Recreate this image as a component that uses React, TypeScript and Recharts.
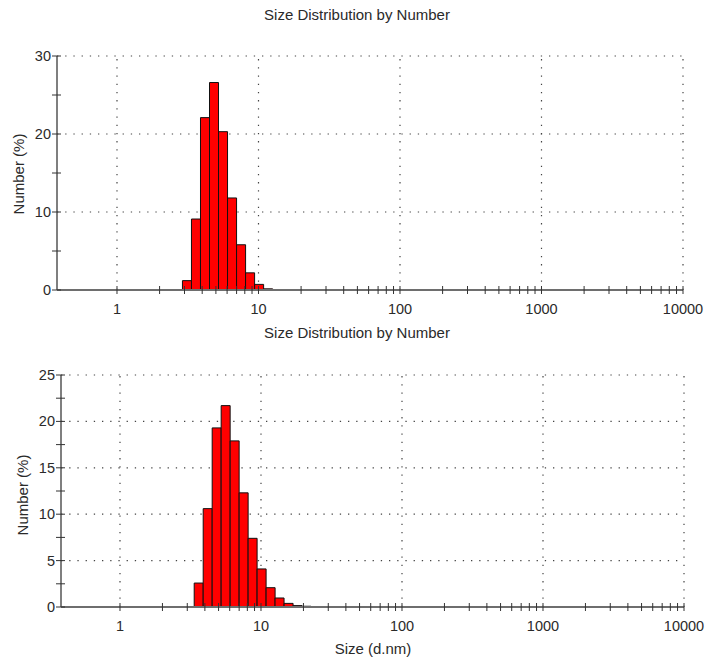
import React from 'react';
import { ComposedChart, XAxis, YAxis, ReferenceArea, ReferenceLine } from 'recharts';

// Size classes (d.nm) of the bars and their Number (%) values
const SIZES_TOP = [3.122, 3.615, 4.187, 4.849, 5.615, 6.503, 7.531, 8.721, 10.1, 11.7];
const NUMBER_TOP = [1.2, 9.1, 22.1, 26.6, 20.3, 11.8, 5.8, 2.2, 0.72, 0.15];

const SIZES_BOTTOM = [3.615, 4.187, 4.849, 5.615, 6.503, 7.531, 8.721, 10.1, 11.7, 13.54, 15.69, 18.17, 21.04];
const NUMBER_BOTTOM = [2.58, 10.6, 19.3, 21.7, 17.9, 12.3, 7.4, 4.1, 2.08, 0.97, 0.39, 0.15, 0.08];

const X_MAJOR = [1, 10, 100, 1000, 10000];
const X_MINOR = [2, 3, 4, 5, 6, 7, 8, 9, 20, 30, 40, 50, 60, 70, 80, 90, 200, 300, 400, 500, 600, 700, 800, 900, 2000, 3000, 4000, 5000, 6000, 7000, 8000, 9000];

const Y_MAJOR_TOP = [0, 10, 20, 30];
const Y_MINOR_TOP = [5, 15, 25];
const Y_MAJOR_BOTTOM = [0, 5, 10, 15, 20, 25];
const Y_MINOR_BOTTOM = [2.5, 7.5, 12.5, 17.5, 22.5];

const TITLE = 'Size Distribution by Number';
const Y_LABEL = 'Number (%)';
const X_LABEL = 'Size (d.nm)';

// Zetasizer size-class step ratio (log spaced classes); half-step for bar edges
const HALF_STEP = Math.sqrt(1.1581);

const FONT = '"Liberation Sans", Arial, sans-serif';
const TEXT_COLOR = '#2a2a2a';

const makeXTick = (majors: number[]) => (props: any) => {
  const { x, y, payload } = props;
  const v = payload.value;
  const isMajor = majors.includes(v);
  return (
    <g>
      <line x1={x} x2={x} y1={y - 4} y2={y + 4} stroke="#333" strokeWidth={1} />
      {isMajor && (
        <text x={x} y={y + 24} textAnchor="middle" fontSize={14.5} fontFamily={FONT} fill={TEXT_COLOR}>
          {v}
        </text>
      )}
    </g>
  );
};

const makeYTick = (majors: number[]) => (props: any) => {
  const { x, y, payload } = props;
  const v = payload.value;
  const isMajor = majors.includes(v);
  return (
    <g>
      <line x1={x - 5} x2={x + 4} y1={y} y2={y} stroke="#333" strokeWidth={1} />
      {isMajor && (
        <text x={x - 6} y={y + 5} textAnchor="end" fontSize={14.5} fontFamily={FONT} fill={TEXT_COLOR}>
          {v}
        </text>
      )}
    </g>
  );
};

type PanelProps = {
  sizes: number[];
  values: number[];
  yMax: number;
  yMajor: number[];
  yMinor: number[];
  xMin: number;
  width: number;
  height: number;
  margin: { top: number; right: number; left: number; bottom: number };
  yAxisWidth: number;
  xAxisHeight: number;
};

const Panel = ({ sizes, values, yMax, yMajor, yMinor, xMin, width, height, margin, yAxisWidth, xAxisHeight }: PanelProps) => {
  const data = sizes.map((s, i) => ({ size: s, value: values[i] }));
  const xTicks = [...X_MAJOR, ...X_MINOR].sort((a, b) => a - b);
  const yTicks = [...yMajor, ...yMinor].sort((a, b) => a - b);
  return (
    <ComposedChart width={width} height={height} data={data} margin={margin}>
      <XAxis
        dataKey="size"
        type="number"
        scale="log"
        domain={[xMin, 10000]}
        allowDataOverflow
        ticks={xTicks}
        interval={0}
        tickSize={0}
        tickMargin={0}
        tickLine={false}
        tick={makeXTick(X_MAJOR)}
        height={xAxisHeight}
        axisLine={{ stroke: '#6e6e6e', strokeWidth: 2 }}
        isAnimationActive={false}
      />
      <YAxis
        type="number"
        domain={[0, yMax]}
        allowDataOverflow
        ticks={yTicks}
        interval={0}
        tickSize={0}
        tickMargin={0}
        tickLine={false}
        tick={makeYTick(yMajor)}
        width={yAxisWidth}
        axisLine={{ stroke: '#555', strokeWidth: 1.5 }}
      />
      {yMajor.filter((v) => v > 0).map((v) => (
        <ReferenceLine
          key={'h' + v}
          y={v}
          stroke="#444"
          strokeWidth={1.2}
          strokeDasharray="1.3 6.9"
          ifOverflow="visible"
          zIndex={-100}
        />
      ))}
      {X_MAJOR.map((v) => (
        <ReferenceLine
          key={'v' + v}
          x={v}
          stroke="#444"
          strokeWidth={1.2}
          strokeDasharray="1.3 6.9"
          ifOverflow="visible"
          zIndex={-100}
        />
      ))}
      {data.map((d) => (
        <ReferenceArea
          key={'b' + d.size}
          x1={d.size / HALF_STEP}
          x2={d.size * HALF_STEP}
          y1={0}
          y2={d.value}
          fill="#ff0000"
          fillOpacity={1}
          stroke="#111"
          strokeWidth={1}
          ifOverflow="visible"
          zIndex={100}
        />
      ))}
    </ComposedChart>
  );
};

const textStyle: React.CSSProperties = {
  position: 'absolute',
  fontFamily: FONT,
  fontSize: 15,
  color: TEXT_COLOR,
  whiteSpace: 'nowrap',
  lineHeight: '15px',
};

export default function App() {
  return (
    <div style={{ position: 'absolute', left: 0, top: 0, width: 707, height: 659, background: '#fff', overflow: 'hidden' }}>
      <div style={{ position: 'absolute', left: 0, top: 0 }}>
        <Panel
          sizes={SIZES_TOP}
          values={NUMBER_TOP}
          yMax={30}
          yMajor={Y_MAJOR_TOP}
          yMinor={Y_MINOR_TOP}
          xMin={0.3767}
          width={707}
          height={321}
          margin={{ top: 56, right: 24, left: 0, bottom: 0 }}
          yAxisWidth={57}
          xAxisHeight={31}
        />
      </div>
      <div style={{ position: 'absolute', left: 0, top: 320 }}>
        <Panel
          sizes={SIZES_BOTTOM}
          values={NUMBER_BOTTOM}
          yMax={25}
          yMajor={Y_MAJOR_BOTTOM}
          yMinor={Y_MINOR_BOTTOM}
          xMin={0.3816}
          width={707}
          height={339}
          margin={{ top: 55, right: 23, left: 0, bottom: 0 }}
          yAxisWidth={61}
          xAxisHeight={52}
        />
      </div>
      <div style={{ ...textStyle, left: 357, top: 7, transform: 'translateX(-50%)' }}>{TITLE}</div>
      <div style={{ ...textStyle, left: 357, top: 325, transform: 'translateX(-50%)' }}>{TITLE}</div>
      <div style={{ ...textStyle, left: 18, top: 174, transform: 'translate(-50%, -50%) rotate(-90deg)' }}>{Y_LABEL}</div>
      <div style={{ ...textStyle, left: 22, top: 495, transform: 'translate(-50%, -50%) rotate(-90deg)' }}>{Y_LABEL}</div>
      <div style={{ ...textStyle, left: 373, top: 641, transform: 'translateX(-50%)' }}>{X_LABEL}</div>
    </div>
  );
}
